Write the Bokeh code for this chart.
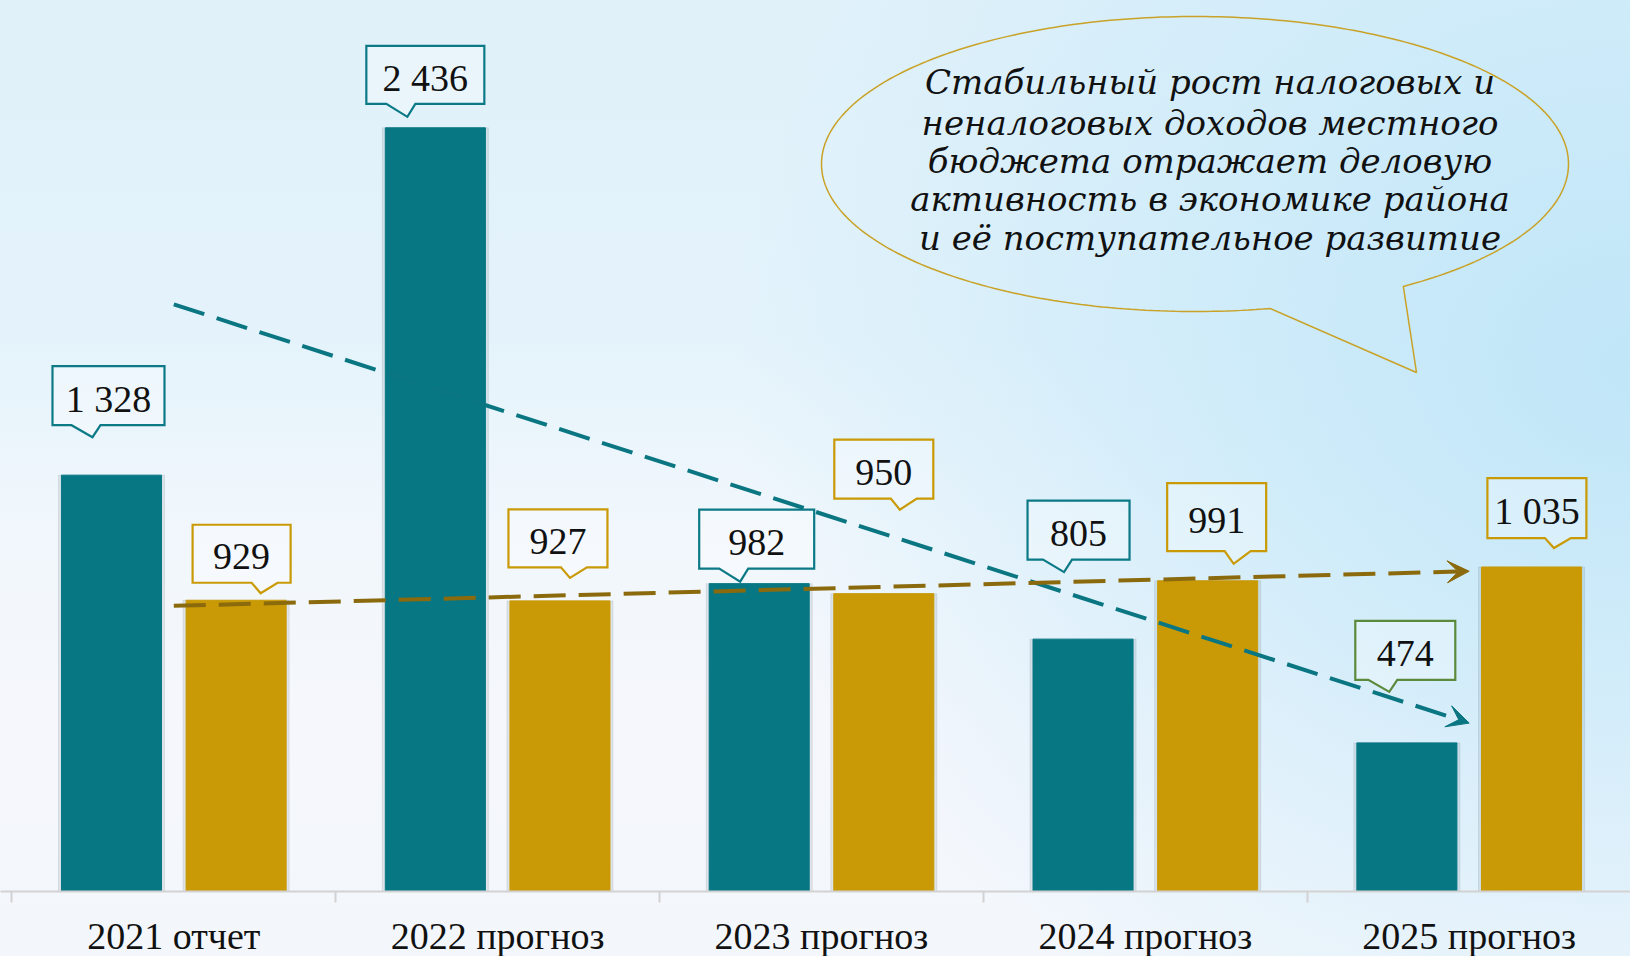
import numpy as np
from bokeh.plotting import figure
from bokeh.models import FixedTicker, Arrow, VeeHead
from bokeh.core.properties import value
from bokeh.embed import file_html
from bokeh.resources import INLINE

# ---------------- data ----------------
categories = ["2021 отчет", "2022 прогноз", "2023 прогноз", "2024 прогноз", "2025 прогноз"]
series_a = [1328, 2436, 982, 805, 474]     # teal bars
series_b = [929, 927, 950, 991, 1035]      # gold bars
bubble_lines = [
    "Стабильный рост налоговых и",
    "неналоговых доходов местного",
    "бюджета отражает деловую",
    "активность в экономике района",
    "и её поступательное развитие",
]

# ---------------- styles / layout ----------------
TEAL = "#077784"
GOLD = "#c99a06"
TEAL_LINE = "#0a7682"
GOLD_LINE = "#8a6a0c"
TEAL_BORDER = "#0b7a86"
GOLD_BORDER = "#c99a06"
GREEN_BORDER = "#5b8a3c"

FRAME_W, FRAME_H = 1630, 891
CAT_W = 323.85          # px per category
X0 = 173.3              # px of first category centre
PX_PER_UNIT = 0.3135    # px per value unit
BAR_OFF = 0.1924
BAR_W = 0.309

x_start = -X0 / CAT_W
x_end = (FRAME_W - X0) / CAT_W
y_end = FRAME_H / PX_PER_UNIT


def dx(px):
    return px / CAT_W


def dy(px):
    return px / PX_PER_UNIT


def page_to_data(xp, yp):
    return (xp - X0) / CAT_W, (FRAME_H - yp) / PX_PER_UNIT


# callout placement (px, relative to bar-top centre, y downwards)
style_a = dict(
    tip=[(-19, -38), (-28, -11), (-19, -2), (-19, -67), (-17.6, -51)],
    box=[(16, -41.5), (18, -42), (16.5, -42.5), (14.5, -42), (16, -41.5)],
    size=[(112, 59), (118, 58), (115, 59), (102, 59), (100, 59)],
    color=[TEAL_BORDER, TEAL_BORDER, TEAL_BORDER, TEAL_BORDER, GREEN_BORDER],
    base=(-21, 8),
)
style_b = dict(
    tip=[(24.5, -7), (10, -23), (16, -84), (26, -17), (22.4, -19)],
    box=[(-19, -39.5), (-12, -39.6), (-16, -40.6), (-17, -46.6), (-17, -40)],
    size=[(98, 58), (99, 58), (99, 59), (99, 68), (99, 60)],
    color=[GOLD_BORDER] * 5,
    base=(-9, 17),
)

p = figure(
    frame_width=FRAME_W, frame_height=FRAME_H,
    x_range=(x_start, x_end), y_range=(0, y_end),
    output_backend="svg", toolbar_location=None,
    y_axis_location=None, min_border=0,
)
p.background_fill_alpha = 0
p.border_fill_alpha = 0
p.outline_line_color = None
p.xgrid.visible = False
p.ygrid.visible = False
p.styles = {
    "background": (
        "radial-gradient(ellipse 55% 80% at 100% 38%, rgba(192,230,248,1) 0%, "
        "rgba(200,233,249,0.75) 45%, rgba(220,240,250,0) 100%), "
        "linear-gradient(180deg, #e0f1fa 0%, #e4f3fb 35%, #f1f7fc 55%, #f5f7fc 75%, #f3f7fc 100%)"
    )
}

idx = np.arange(len(categories))
xa = idx - BAR_OFF
xb = idx + BAR_OFF

# soft shadows + bars
p.vbar(x=xa, top=series_a, width=BAR_W + dx(6), color="#4a5a66", alpha=0.12)
p.vbar(x=xb, top=series_b, width=BAR_W + dx(6), color="#4a5a66", alpha=0.12)
p.vbar(x=xa, top=series_a, width=BAR_W, color=TEAL)
p.vbar(x=xb, top=series_b, width=BAR_W, color=GOLD)

# trend lines with arrows
for vals, col in ((series_a, TEAL_LINE), (series_b, GOLD_LINE)):
    k, b = np.polyfit(idx, vals, 1)
    p.add_layout(Arrow(
        end=VeeHead(size=22, fill_color=col, line_color=col),
        x_start=float(idx[0]), y_start=float(b),
        x_end=float(idx[-1]), y_end=float(k * idx[-1] + b),
        line_color=col, line_width=4, line_dash="32 13",
    ))


def callouts(xc, vals, st):
    xs, ys, tx, ty, txt = [], [], [], [], []
    bl, br = st["base"]
    for i, (x, v) in enumerate(zip(xc, vals)):
        tdx, tdy = st["tip"][i]
        bcx, bcy = st["box"][i]
        w, h = st["size"][i]
        cx, cy = tdx + bcx, tdy + bcy
        L, R, T, B = cx - w / 2, cx + w / 2, cy - h / 2, cy + h / 2
        pts = [(L, T), (R, T), (R, B), (tdx + br, B), (tdx, tdy), (tdx + bl, B), (L, B)]
        xs.append([float(x) + dx(a) for a, _ in pts])
        ys.append([v - dy(c) for _, c in pts])
        tx.append(float(x) + dx(cx))
        ty.append(v - dy(cy + 3))
        txt.append(f"{v:,}".replace(",", " "))
    return xs, ys, tx, ty, txt


for xc, vals, st in ((xa, series_a, style_a), (xb, series_b, style_b)):
    xs, ys, tx, ty, txt = callouts(xc, vals, st)
    p.patches(xs, ys, fill_color="white", fill_alpha=0.3,
              line_color=st["color"], line_width=2.2, line_join="miter")
    p.text(tx, ty, text=txt, text_align="center", text_baseline="middle",
           text_font=value("Liberation Serif"), text_font_size="38px", text_color="#111111")

# speech bubble
cxb, cyb, ab, bb = 1194.5, 163.5, 373.5, 147.5
th = np.linspace(np.radians(78.4), np.radians(56.1 + 360), 300)
bx = list(cxb + ab * np.cos(th)) + [1416, cxb + ab * np.cos(th[0])]
by = list(cyb + bb * np.sin(th)) + [372, cyb + bb * np.sin(th[0])]
bxd, byd = zip(*[page_to_data(a, c) for a, c in zip(bx, by)])
p.line(list(bxd), list(byd), line_color="#c9a227", line_width=1.5)

line_y = [81, 122, 160, 198.5, 237]
pos = [page_to_data(1209.5, yy) for yy in line_y]
p.text([q[0] for q in pos], [q[1] for q in pos], text=bubble_lines,
       text_align="center", text_baseline="middle",
       text_font=value("DejaVu Serif"), text_font_style="italic",
       text_font_size="34px", text_color="#111111")

# x axis
ax = p.xaxis[0]
ax.ticker = FixedTicker(ticks=list(range(len(categories))),
                        minor_ticks=[i - 0.5 for i in range(len(categories) + 1)])
ax.major_label_overrides = {i: c for i, c in enumerate(categories)}
ax.axis_line_color = "#d2d2d2"
ax.axis_line_width = 2
ax.major_tick_line_color = None
ax.major_tick_out = 0
ax.major_tick_in = 0
ax.minor_tick_line_color = "#d2d2d2"
ax.minor_tick_line_width = 2
ax.minor_tick_out = 11
ax.minor_tick_in = 0
ax.major_label_standoff = 12
ax.major_label_text_font = "Liberation Serif"
ax.major_label_text_font_size = "38px"
ax.major_label_text_color = "#111111"

open("out.html", "w").write(file_html(p, INLINE))
